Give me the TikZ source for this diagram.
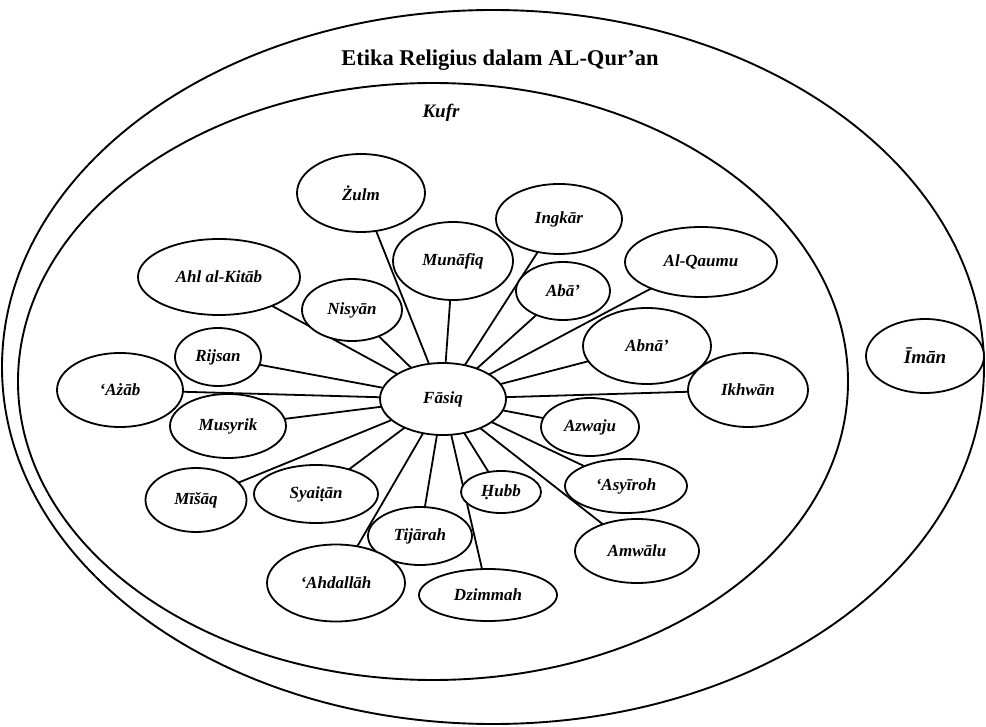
\documentclass[tikz,border=0pt]{standalone}
\usepackage{fontspec}
\setmainfont{Liberation Serif}
\usetikzlibrary{shapes.geometric,backgrounds}
\tikzset{
  bub/.style={ellipse, draw, line width=1.8pt, fill=white, inner sep=0pt,
    font=\fontsize{17}{19}\selectfont\bfseries\itshape},
  conn/.style={line width=1.8pt},
  ring/.style={line width=1.9pt}
}
\begin{document}
\begin{tikzpicture}[x=1pt,y=-1pt]
\useasboundingbox (0,0) rectangle (986,727);
% outer rings
\draw[ring] (493,367) ellipse [x radius=491, y radius=357];
\draw[ring] (433,381.5) ellipse [x radius=415, y radius=298.5];
\node[font=\fontsize{22.5}{24}\selectfont\bfseries] (title) at (500,60) {Etika Religius dalam AL-Qur’an};
\node[font=\fontsize{19}{21}\selectfont\bfseries\itshape] (kufr) at (441,113) {Kufr};
% nodes
\node[bub, minimum width=126, minimum height=72] (f) at (443,399) {Fāsiq};
\node[bub, minimum width=128, minimum height=78] (zulm) at (361,193) {Żulm};
\node[bub, minimum width=126, minimum height=70] (ingkar) at (559,219) {Ingkār};
\node[bub, minimum width=120, minimum height=78] (munafiq) at (453,261) {Munāfiq};
\node[bub, minimum width=162, minimum height=76] (ahl) at (219,277) {Ahl al-Kitāb};
\node[bub, minimum width=100, minimum height=62] (nisyan) at (352,310) {Nisyān};
\node[bub, minimum width=94, minimum height=58] (aba) at (563,291) {Abā’};
\node[bub, minimum width=152, minimum height=70] (qaumu) at (701,262) {Al-Qaumu};
\node[bub, minimum width=128, minimum height=76] (abna) at (647,346) {Abnā’};
\node[bub, minimum width=120, minimum height=74] (ikhwan) at (748,390) {Ikhwān};
\node[bub, minimum width=98, minimum height=58] (azwaju) at (590,427) {Azwaju};
\node[bub, minimum width=122, minimum height=54] (asyiroh) at (626,486) {‘Asyīroh};
\node[bub, minimum width=124, minimum height=64] (amwalu) at (637,551) {Amwālu};
\node[bub, minimum width=80, minimum height=42] (hubb) at (501,492) {Ḥubb};
\node[bub, minimum width=104, minimum height=58] (tijarah) at (420,536) {Tijārah};
\node[bub, minimum width=138, minimum height=52] (dzimmah) at (488,595) {Dzimmah};
\node[bub, minimum width=138, minimum height=77] (ahdallah) at (336,583) {‘Ahdallāh};
\node[bub, minimum width=124, minimum height=58] (syaitan) at (316,494) {Syaiṭān};
\node[bub, minimum width=101, minimum height=64] (misaq) at (196,500) {Mīšāq};
\node[bub, minimum width=116, minimum height=64] (musyrik) at (228,426) {Musyrik};
\node[bub, minimum width=126, minimum height=74] (azab) at (120,390) {‘Ażāb};
\node[bub, minimum width=86, minimum height=58] (rijsan) at (218,357) {Rijsan};
\node[bub, minimum width=118, minimum height=74, font=\fontsize{19}{21}\selectfont\bfseries\itshape] (iman) at (925,356) {Īmān};
% connectors
\begin{scope}[on background layer]
\foreach \n in {zulm,ingkar,munafiq,ahl,nisyan,aba,qaumu,abna,ikhwan,azwaju,asyiroh,amwalu,hubb,tijarah,dzimmah,ahdallah,syaitan,misaq,musyrik,azab,rijsan}
  \draw[conn] (f.center) -- (\n.center);
\end{scope}
\end{tikzpicture}
\end{document}
